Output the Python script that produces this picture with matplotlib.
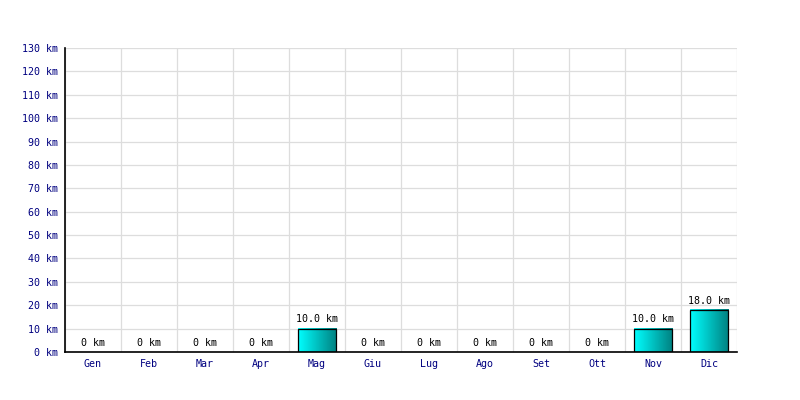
import matplotlib
matplotlib.use("Agg")
import matplotlib.pyplot as plt
import numpy as np
from matplotlib.colors import LinearSegmentedColormap

months = ["Gen", "Feb", "Mar", "Apr", "Mag", "Giu", "Lug", "Ago", "Set", "Ott", "Nov", "Dic"]
values = [0, 0, 0, 0, 10.0, 0, 0, 0, 0, 0, 10.0, 18.0]
yticks = list(range(0, 140, 10))

plt.rcParams['font.family'] = ['DejaVu Sans Mono']

fig = plt.figure(figsize=(8, 4), dpi=100)
ax = fig.add_axes([65/800, 48/400, 672/800, 304/400])

n = len(months)

# grid
for i in range(n + 1):
    ax.axvline(i, color='#dddddd', lw=0.9, zorder=0)
for t in yticks:
    ax.axhline(t, color='#dddddd', lw=0.9, zorder=0)

cmap = LinearSegmentedColormap.from_list('g', ['#00ffff', '#008080'])
grad = np.linspace(0, 1, 256).reshape(1, -1)

bw = 0.68
for i, v in enumerate(values):
    x0 = i + (1 - bw) / 2
    if v > 0:
        ax.imshow(grad, cmap=cmap, aspect='auto', extent=(x0, x0 + bw, 0, v),
                  zorder=2, interpolation='bilinear')
        ax.add_patch(plt.Rectangle((x0, 0), bw, v, fill=False, ec='black', lw=0.9, zorder=3))
        label = f"{v:.1f} km"
    else:
        label = "0 km"
    ax.annotate(label, (i + 0.5, v), xytext=(0, 3), textcoords='offset points',
                ha='center', va='bottom', fontsize=7.2, color='black')

ax.set_xlim(0, n)
ax.set_ylim(0, 130)
ax.set_xticks([i + 0.5 for i in range(n)])
ax.set_xticklabels(months)
ax.set_yticks(yticks)
ax.set_yticklabels([f"{t} km" for t in yticks])
ax.tick_params(axis='both', length=0, labelsize=7.2, labelcolor='#000080', pad=5)
for s in ['top', 'right']:
    ax.spines[s].set_visible(False)
for s in ['left', 'bottom']:
    ax.spines[s].set_color('black')
    ax.spines[s].set_linewidth(1.2)
    ax.spines[s].set_zorder(4)

fig.savefig('out.png', dpi=100)
